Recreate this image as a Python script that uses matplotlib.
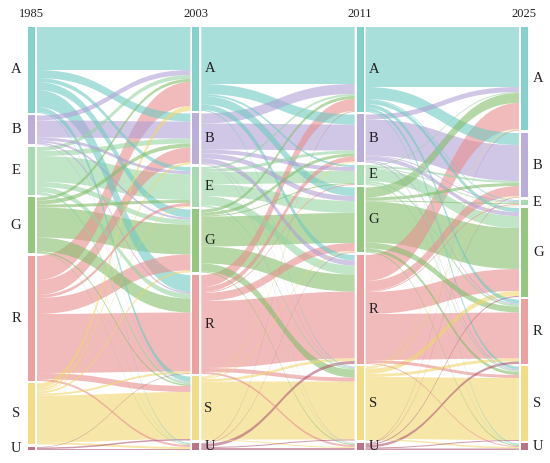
import numpy as np
import matplotlib.pyplot as plt
from matplotlib.path import Path
from matplotlib.patches import PathPatch, Rectangle

years = ["1985", "2003", "2011", "2025"]
classes = ["A", "B", "E", "G", "R", "S", "U"]

# transitions (rows = from, cols = to), order A B E G R S U
flow_1985_2003 = [
    [43, 8, 4, 8, 17, 5, 1],
    [5, 17, 3, 2, 1.5, 0.5, 0],
    [4, 5, 26, 5, 5, 2.5, 0.5],
    [3, 4, 3, 30, 14, 1.5, 0.5],
    [24, 15, 3, 16, 59, 6, 2],
    [5, 2, 1, 2, 2, 47, 2],
    [0, 0, 0, 0, 0.5, 1.5, 1],
]
flow_2003_2011 = [
    [57, 10, 2, 8.5, 5.5, 1, 0],
    [10, 26, 4, 5, 5, 0.5, 0.5],
    [2, 3, 12, 12, 9, 1.5, 0.5],
    [3, 3, 1, 30, 17, 8, 1],
    [12, 5, 1, 8, 67, 4, 2],
    [0.5, 1, 0, 1, 2.5, 58, 1],
    [0.5, 0, 0, 0.5, 3, 1, 2],
]
flow_2011_2025 = [
    [60, 12, 1, 4, 4, 3, 1],
    [5, 36, 1, 4, 1, 1, 0],
    [1, 2, 1, 12, 2, 1.5, 0.5],
    [10, 3, 1, 41, 6, 3, 1],
    [26, 10, 1, 22, 46, 3, 1],
    [1, 1, 0.5, 5, 3, 62, 1.5],
    [0.5, 0.5, 0, 1, 2.5, 1, 1.5],
]

colors = ["#70cac3", "#b1a0d5", "#98d4a2", "#84be6b", "#e98f8e", "#f0d771", "#af5a73"]

flows = [np.array(f, dtype=float) for f in (flow_1985_2003, flow_2003_2011, flow_2011_2025)]

# node sizes for every year
sizes = []
for i in range(len(years)):
    out_ = flows[i].sum(axis=1) if i < len(flows) else np.zeros(len(classes))
    in_ = flows[i - 1].sum(axis=0) if i > 0 else np.zeros(len(classes))
    sizes.append(np.maximum(out_, in_))

gap = 2.5
bar_w = 0.043
pad = 0.012
px = 164.3  # pixels per year step

fig = plt.figure(figsize=(5.5, 4.63), dpi=100)
ax = fig.add_axes([0, 0, 1, 1])
ax.set_xlim(-28 / px, -28 / px + 550 / px)
ax.set_ylim(436, -27)
ax.axis("off")

serif = ["Liberation Serif", "DejaVu Serif"]

tops = []
for s in sizes:
    t = np.concatenate([[0], np.cumsum(s + gap)[:-1]])
    tops.append(t)


def ribbon(x0, x1, a0, b0, a1, b1, color):
    xm = (x0 + x1) / 2
    verts = [(x0, a0), (xm, a0), (xm, a1), (x1, a1),
             (x1, b1), (xm, b1), (xm, b0), (x0, b0), (x0, a0)]
    codes = [Path.MOVETO, Path.CURVE4, Path.CURVE4, Path.CURVE4,
             Path.LINETO, Path.CURVE4, Path.CURVE4, Path.CURVE4, Path.CLOSEPOLY]
    ax.add_patch(PathPatch(Path(verts, codes), facecolor=color, edgecolor="none",
                           alpha=0.6, lw=0))


for k, f in enumerate(flows):
    x0 = k + bar_w + pad
    x1 = k + 1 - pad
    out_off = tops[k].copy()
    in_off = tops[k + 1].copy()
    bands = []
    for i in range(len(classes)):
        for j in range(len(classes)):
            v = f[i, j]
            if v <= 0:
                continue
            bands.append((v, i, out_off[i], in_off[j]))
            out_off[i] += v
            in_off[j] += v
    bands.sort(key=lambda b: -b[0])
    for v, i, y0, y1 in bands:
        ribbon(x0, x1, y0, y0 + v, y1, y1 + v, colors[i])

for k, year in enumerate(years):
    for i, c in enumerate(classes):
        ax.add_patch(Rectangle((k, tops[k][i]), bar_w, sizes[k][i],
                               facecolor=colors[i], alpha=0.85, edgecolor="none"))
        yc = tops[k][i] + sizes[k][i] / 2
        if k == 0:
            ax.text(-12 / px, yc, c, ha="center", va="center", fontsize=10.5,
                    family=serif, color="#222222")
        else:
            ax.text(k + bar_w + 5 / px, yc, c, ha="left", va="center", fontsize=10.5,
                    family=serif, color="#222222")
    ax.text(k + bar_w / 2, -13, year, ha="center", va="center", fontsize=9,
            family=serif, color="#222222")

fig.savefig("out.png", dpi=100)
